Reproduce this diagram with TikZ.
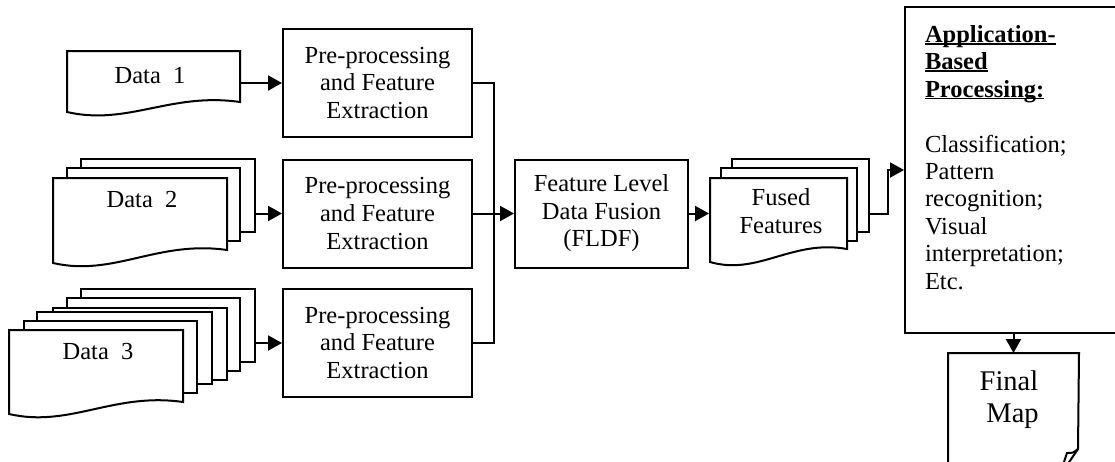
\documentclass[tikz,border=0pt]{standalone}
\usepackage{fontspec}
\setmainfont{Liberation Serif}
\usetikzlibrary{arrows.meta,calc}
\newcommand\myul[1]{\setbox0=\hbox{#1}\rlap{\rule[-2.2pt]{\wd0}{1.6pt}}\box0}
\begin{document}
\begin{tikzpicture}[x=1pt,y=-1pt,line width=2pt,
  txt/.style={font=\fontsize{24.5}{27.6}\selectfont, align=center, inner sep=0pt},
  procbox/.style={draw, fill=white, minimum width=189pt, minimum height=108pt, inner sep=0pt, txt},
  sheet/.style={draw, fill=white, inner sep=0pt},
  arr/.style={-{Triangle[length=14pt,width=15pt]}}]
\newcommand\sheetnode[5]{%
  \node[sheet, minimum width={#4-#2}, minimum height={#5-#3}] (#1) at ({(#2+#4)/2},{(#3+#5)/2}) {};}
\newcommand\docfront[6]{%
  \node[draw=none, inner sep=0pt, minimum width={#4-#2}, minimum height={#5-#3}] (#1) at ({(#2+#4)/2},{(#3+#5)/2}) {};
  \draw[fill=white] (#2,#3) -- (#4,#3) -- (#4,#6) .. controls ({#2+0.6*(#4-#2)},{#6-10}) and ({#2+0.35*(#4-#2)},{#5+14}) .. (#2,#5) -- cycle;}
\useasboundingbox (0,0) rectangle (1115,461);
\clip (0,0) rectangle (1115,461);
% data 1
\docfront{d1}{67}{51}{240}{112}{102}
% data 2
\sheetnode{d2a}{81}{159}{255}{232}
\sheetnode{d2b}{67}{168}{240}{241}
\docfront{d2}{53}{178}{227}{263}{250}
% data 3
\sheetnode{d3a}{81}{289}{255}{362}
\sheetnode{d3b}{67}{298}{240}{371}
\sheetnode{d3c}{53}{308}{227}{380}
\sheetnode{d3d}{37}{312}{212}{384}
\sheetnode{d3e}{24}{321}{197}{393}
\docfront{d3}{9}{330}{183}{414}{402}
% fused
\sheetnode{fa}{732}{159}{869}{232}
\sheetnode{fb}{721}{168}{857}{241}
\docfront{ff}{710}{178}{847}{262}{249}
% texts of documents
\node[txt, anchor=base] (t1) at (150,83) {Data\ \ 1};
\node[txt, anchor=base] (t2) at (142,207) {Data\ \ 2};
\node[txt, anchor=base] (t3) at (98,359) {Data\ \ 3};
\node[txt, anchor=base] (ft) at (781,233) {Fused\\Features};
% processing boxes
\node[procbox] (p1) at (377.5,83) {Pre-processing\\and Feature\\Extraction};
\node[procbox] (p2) at (377.5,213.5) {Pre-processing\\and Feature\\Extraction};
\node[procbox] (p3) at (377.5,343) {Pre-processing\\and Feature\\Extraction};
\node[procbox, minimum width=173pt] (fldf) at (601.5,213.5) {Feature Level\\Data Fusion\\(FLDF)};
% application box
\node[draw, inner sep=0pt, minimum width=220pt, minimum height=326pt] (app) at (1015,170) {};
\node[anchor=base west, align=left, inner sep=0pt, font=\fontsize{24.5}{27.4}\selectfont] (apptext) at (924,289)
  {\textbf{\myul{Application-}}\\\textbf{\myul{Based}}\\\textbf{\myul{Processing:}}\\[27.4pt]Classification;\\Pattern\\recognition;\\Visual\\interpretation;\\Etc.};
% final map
\node[draw=none, inner sep=0pt, minimum width=129pt, minimum height=120pt] (fm) at (1013.5,414) {};
\draw (fm.south west) -- (fm.north west) -- (fm.north east) -- (1078,449) -- (1061,474);
\draw (1078,449) .. controls (1073,453) .. (1067,453) -- (1064,462);
\node[anchor=base, align=center, inner sep=0pt, font=\fontsize{28.5}{32}\selectfont] (fmt) at (1009,422) {Final\\\ Map};
% connectors
\draw[arr] (d1.east |- p1.west) -- (p1.west);
\draw[arr] (d2a.east |- p2.west) -- (p2.west);
\draw[arr] (d3a.east |- p3.west) -- (p3.west);
\draw (p1.east) -- ++(21,0) |- (p3.east);
\draw[arr] (p2.east) -- (fldf.west);
\draw[arr] (fldf.east) -- (ff.west |- fldf.east);
\draw[arr] (fa.east |- fldf.east) -- ++(18,0) |- (app.west);
\draw[arr] (app.south -| fm.north) -- (fm.north);
\end{tikzpicture}
\end{document}
